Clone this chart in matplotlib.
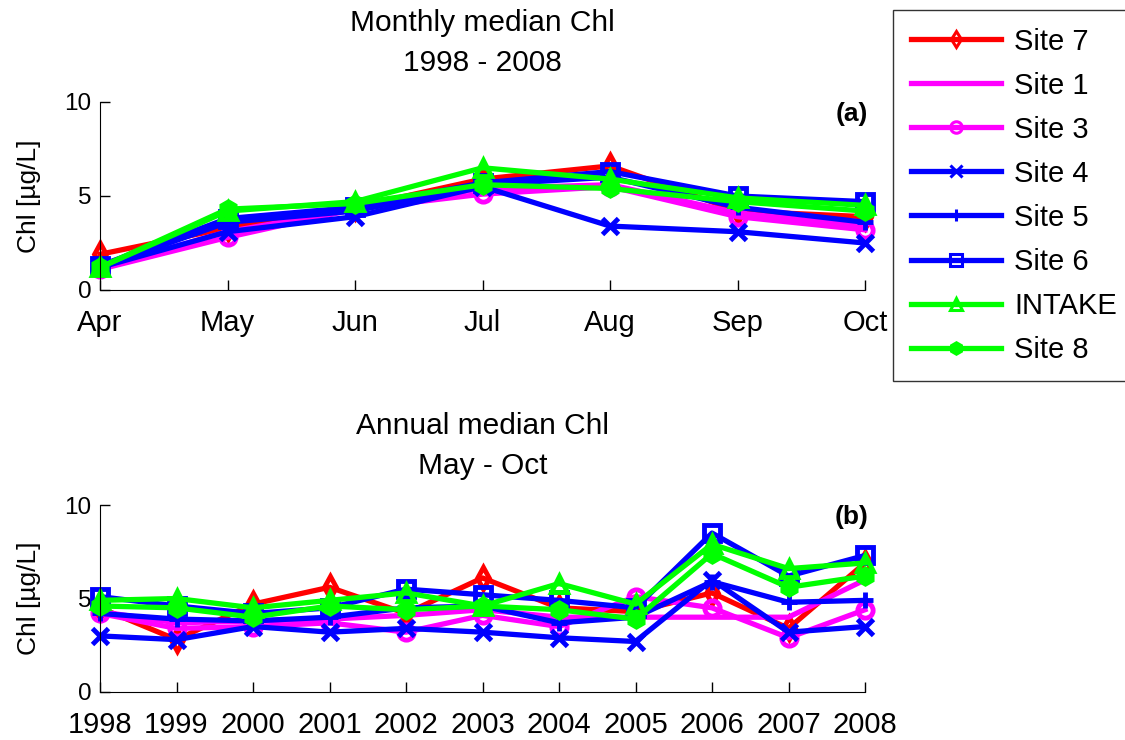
import matplotlib
matplotlib.use("Agg")
import matplotlib.pyplot as plt
import numpy as np

plt.rcParams['font.family'] = ['Liberation Sans', 'DejaVu Sans']

# monthly medians, 1998 - 2008
months = ['Apr', 'May', 'Jun', 'Jul', 'Aug', 'Sep', 'Oct']
site7_m  = [1.9, 3.3, 4.4, 5.9, 6.6, 4.2, 3.9]
site1_m  = [1.2, 3.1, 4.3, 5.4, 5.6, 4.1, 3.4]
site3_m  = [1.1, 2.8, 4.3, 5.1, 5.5, 3.9, 3.2]
site4_m  = [1.2, 3.1, 3.9, 5.5, 3.4, 3.1, 2.5]
site5_m  = [1.2, 3.6, 4.2, 5.6, 6.0, 4.4, 3.6]
site6_m  = [1.3, 3.8, 4.4, 5.7, 6.3, 5.0, 4.7]
intake_m = [1.2, 4.2, 4.7, 6.5, 5.9, 4.9, 4.5]
site8_m  = [1.2, 4.3, 4.6, 5.6, 5.4, 4.7, 4.2]

# annual medians, May - Oct
years = [1998, 1999, 2000, 2001, 2002, 2003, 2004, 2005, 2006, 2007, 2008]
site7_y  = [4.5, 2.8, 4.7, 5.6, 4.2, 6.1, 4.5, 4.3, 5.3, 3.4, 6.9]
site1_y  = [4.3, 3.7, 3.8, 3.9, 4.1, 4.4, 4.0, 4.0, 4.0, 4.0, 6.0]
site3_y  = [4.2, 3.4, 3.5, 3.7, 3.2, 4.1, 3.5, 5.1, 4.5, 2.9, 4.4]
site4_y  = [3.0, 2.8, 3.5, 3.2, 3.4, 3.2, 2.9, 2.7, 6.0, 3.2, 3.5]
site5_y  = [4.2, 3.9, 3.8, 4.0, 4.5, 4.6, 3.7, 4.0, 5.9, 4.8, 4.9]
site6_y  = [5.1, 4.6, 4.2, 4.5, 5.5, 5.2, 4.9, 4.5, 8.5, 6.2, 7.3]
intake_y = [4.9, 5.0, 4.5, 4.9, 5.3, 4.6, 5.8, 4.7, 7.9, 6.6, 6.9]
site8_y  = [4.6, 4.5, 4.0, 4.6, 4.4, 4.6, 4.4, 3.9, 7.4, 5.6, 6.2]

labels  = ['Site 7', 'Site 1', 'Site 3', 'Site 4', 'Site 5', 'Site 6', 'INTAKE', 'Site 8']
colors  = ['#ff0000', '#ff00ff', '#ff00ff', '#0000ff', '#0000ff', '#0000ff', '#00ff00', '#00ff00']
markers = ['d', 'None', 'o', 'x', '+', 's', '^', 'h']
filled  = [False, False, False, True, True, False, False, True]

monthly = [site7_m, site1_m, site3_m, site4_m, site5_m, site6_m, intake_m, site8_m]
annual  = [site7_y, site1_y, site3_y, site4_y, site5_y, site6_y, intake_y, site8_y]

fig = plt.figure(figsize=(11.25, 7.4), dpi=100)
ax1 = fig.add_axes([100/1125, 1 - 290/740, 765/1125, 188/740])
ax2 = fig.add_axes([100/1125, 1 - 692/740, 765/1125, 187/740])

def draw(ax, x, data):
    handles = []
    for vals, c, m, f, lab in zip(data, colors, markers, filled, labels):
        h, = ax.plot(x, vals, color=c, lw=3.8, marker=m, ms=11, mew=3.5,
                     mfc=c if f else 'none', mec=c, label=lab, clip_on=False)
        handles.append(h)
    ax.set_ylim(0, 10)
    ax.set_yticks([0, 5, 10])
    ax.set_xlim(x[0], x[-1])
    for s in ['top', 'right']:
        ax.spines[s].set_visible(False)
    ax.tick_params(direction='in', length=7, width=1, labelsize=17.5, pad=6)
    ax.tick_params(axis='x', labelsize=21, pad=14)
    ax.set_ylabel('Chl [µg/L]', fontsize=19, labelpad=17)
    return handles

xm = np.arange(len(months))
handles = draw(ax1, xm, monthly)
ax1.set_xticks(xm)
ax1.set_xticklabels(months)
ax1.set_title('Monthly median Chl\n1998 - 2008', fontsize=21.5, pad=22, linespacing=1.55)
ax1.text(1.004, 1.0, '(a)', transform=ax1.transAxes, ha='right', va='top',
         fontsize=19, fontweight='bold')

draw(ax2, years, annual)
ax2.set_xticks(years)
ax2.set_xticklabels([str(y) for y in years])
ax2.set_title('Annual median Chl\nMay - Oct', fontsize=21.5, pad=22, linespacing=1.55)
ax2.text(1.004, 1.0, '(b)', transform=ax2.transAxes, ha='right', va='top',
         fontsize=19, fontweight='bold')

leg = fig.legend(handles=handles, loc='upper left',
                 bbox_to_anchor=(893/1125, 1 - 10/740), borderaxespad=0,
                 fontsize=21, frameon=True, fancybox=False, edgecolor='black',
                 handlelength=3.1, handletextpad=0.45, labelspacing=0.55,
                 borderpad=0.6, markerscale=0.75)
leg.get_frame().set_linewidth(1)
for lh in leg.legend_handles:
    lh.set_markeredgewidth(2.2)

fig.savefig('out.png', dpi=100)
